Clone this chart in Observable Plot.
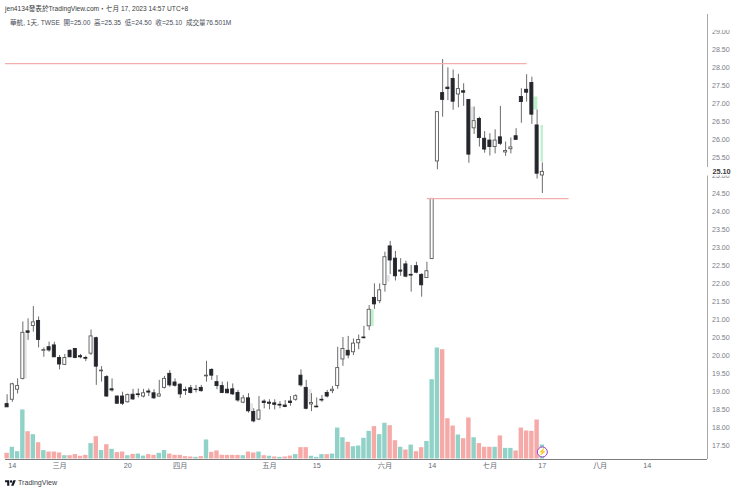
<!DOCTYPE html>
<html><head><meta charset="utf-8">
<script src="https://cdn.jsdelivr.net/npm/d3@7"></script>
<script src="https://cdn.jsdelivr.net/npm/@observablehq/plot@0.6"></script>
<style>
html,body{margin:0;padding:0;background:#fff;width:740px;height:492px;overflow:hidden}
body{position:relative;font-family:"Liberation Sans","Noto Sans CJK TC",sans-serif}
.t{position:absolute;white-space:pre;line-height:12px}
#chart{position:absolute;left:0;top:0}
</style></head><body>
<div id="chart"></div>
<div class="t" style="left:5px;top:2.5px;font-size:6.65px;color:#3a3a3a">jen4134發表於TradingView.com・七月 17, 2023 14:57 UTC+8</div>
<div class="t" style="left:10px;top:16.5px;font-size:6.6px;color:#4a4e59">華航, 1天, TWSE  開=25.00  高=25.35  低=24.50  收=25.10  成交量76.501M</div>
<svg style="position:absolute;left:5px;top:479px" width="11" height="8.5" viewBox="0 0 36 28"><path fill="#131722" d="M14 22H7V11H0V4h14v18zM28 22h-8l7.5-18h8L28 22zM20 4a4 4 0 1 1 0 8 4 4 0 0 1 0-8z"/></svg>
<div class="t" style="left:18px;top:477px;font-size:7.1px;color:#3a3e48">TradingView</div>
<script>
const opens = [18.65,18.77,19.05,19.35,20.67,20.82,20.96,20.13,20.23,20.28,19.93,19.74,20.13,20.18,19.98,19.93,20.05,20.48,19.56,19.40,19.06,18.86,18.86,18.70,18.91,18.92,18.86,19.00,18.95,18.86,19.10,19.49,19.25,19.19,19.04,
19.09,19.05,19.10,19.42,19.60,19.26,19.15,19.05,19.06,18.96,18.69,18.81,18.43,18.22,18.72,18.69,18.67,18.63,18.61,18.72,18.77,19.44,19.10,18.64,18.58,18.77,18.96,19.01,
19.15,19.89,20.13,20.09,20.34,20.50,20.81,21.60,21.51,21.96,23.03,22.69,22.36,22.53,22.24,22.48,22.24,22.15,22.68,25.39,27.29,27.44,27.68,27.25,27.34,27.10,26.31,26.57,26.02,25.97,25.79,26.06,25.64,25.73,26.09,27.18,27.38,27.57,26.39,25.00];
const highs = [18.91,19.23,19.35,20.93,21.02,21.36,21.07,20.21,20.37,20.37,20.00,20.03,20.16,20.19,20.03,19.98,20.71,20.51,19.69,19.44,19.35,18.87,18.98,18.93,19.06,19.07,19.06,19.07,19.05,19.31,19.42,19.58,19.35,19.21,19.12,
19.17,19.17,19.17,19.84,19.63,19.44,19.26,19.26,19.21,19.03,18.89,18.94,18.52,18.86,18.77,18.77,18.77,18.72,18.75,18.86,18.91,19.60,19.31,18.94,18.82,18.89,19.03,19.14,
20.23,20.50,20.53,20.46,20.57,20.81,21.39,21.99,21.99,22.87,23.17,22.89,22.69,22.62,22.50,22.59,22.27,22.59,24.35,26.76,28.22,27.99,27.93,27.81,27.55,27.10,26.90,26.62,26.22,26.16,26.27,26.92,25.93,26.04,26.30,27.41,27.80,27.73,26.82,25.35];
const lows = [18.56,18.70,18.93,19.32,20.42,20.65,20.21,19.95,20.09,19.95,19.60,19.72,19.94,19.91,19.91,19.83,20.00,19.17,19.26,18.84,18.98,18.66,18.61,18.68,18.75,18.82,18.82,18.86,18.78,18.84,19.07,19.12,19.12,18.81,18.89,
18.93,18.96,18.98,19.26,19.31,19.05,18.94,18.94,18.89,18.70,18.66,18.40,18.13,18.19,18.52,18.49,18.49,18.52,18.55,18.59,18.73,19.12,18.49,18.44,18.55,18.70,18.82,18.94,
19.06,19.70,19.91,20.00,20.16,20.46,20.69,21.28,21.44,21.76,22.25,22.07,22.20,22.16,21.76,22.27,21.62,22.15,22.66,25.16,26.62,27.08,26.81,26.88,26.92,25.34,26.14,25.79,25.62,25.54,25.60,25.83,25.53,25.60,25.99,26.45,27.04,26.42,24.90,24.50];
const closes = [18.56,19.20,19.15,20.63,20.63,20.92,20.43,20.15,20.14,19.95,19.75,19.93,19.95,19.93,19.95,19.91,20.53,19.69,19.58,18.86,19.03,18.66,18.66,18.90,18.78,18.90,18.95,18.97,18.81,18.92,19.35,19.17,19.16,18.92,19.02,
18.96,19.04,19.01,19.44,19.44,19.15,18.96,18.95,18.92,18.75,18.81,18.45,18.17,18.47,18.68,18.66,18.63,18.61,18.57,18.68,18.87,19.17,18.52,18.68,18.56,18.75,18.86,19.05,
19.65,20.18,20.00,20.33,20.43,20.48,21.27,21.42,21.81,22.73,22.64,22.20,22.33,22.19,22.22,22.30,21.95,22.34,24.35,26.76,27.10,27.40,27.05,27.40,27.30,25.58,26.51,26.04,25.72,25.79,25.97,25.88,25.68,25.78,25.99,27.04,27.30,26.69,25.05,25.10];
// volume in millions of shares
const volumes = [31,64,40,268,149,133,89,46,38,38,33,18,18,24,15,20,84,122,46,78,53,35,38,18,25,27,16,24,20,31,46,27,20,20,13,
11,9,13,104,36,44,20,20,20,20,18,38,33,38,18,15,11,9,11,16,24,62,62,15,9,24,24,27,
169,116,91,67,71,113,151,177,133,195,182,100,64,49,76,40,62,96,433,606,597,220,180,131,111,224,116,84,64,64,64,126,58,58,44,169,153,151,213,76.5];
const volumeUp = [0,1,1,1,0,1,0,1,0,0,0,1,0,0,0,0,1,0,1,0,1,0,0,1,0,1,1,0,0,1,1,0,0,0,0,
0,1,0,1,0,0,0,0,0,0,1,0,0,1,0,1,0,1,0,0,1,0,0,1,1,1,0,1,
1,1,0,1,1,1,1,0,1,1,0,0,1,0,1,0,0,1,1,1,0,0,0,1,0,0,1,0,0,0,1,0,1,1,0,0,0,0,0,1];
const xTickIndex = [1,10,23,33,50,59,72,81,92,102,113,122];
const xTickLabels = ["14","三月","20","四月","五月","15","六月","14","七月","17","八月","14"];
const priceTicks = [17.5,18,18.5,19,19.5,20,20.5,21,21.5,22,22.5,23,23.5,24,24.5,25,25.5,26,26.5,27,27.5,28,28.5,29];
const levelPrice = [28.11,24.36];
const levelFrom = [-0.3,80.07];
const levelTo = [99.1,107.1];
const greenFrom = [69.2,100.4,101.75], greenTo = [69.95,101.15,102.2], greenHi = [21.27,27.18,26.39], greenLo = [20.81,26.82,25.37];
const grayFrom = [3.3,46.4,57.5,72.5,88.45], grayTo = [3.83,46.95,58.1,73,88.97], grayHi = [20.6,18.66,19.05,22.22,26.9], grayLo = [19.35,18.43,18.7,22.04,26.53];

const W = 740, H = 492;
const idx = d3.range(opens.length);
const up = idx.filter(i => closes[i] >= opens[i]);
const dn = idx.filter(i => closes[i] < opens[i]);
const volBase = 17.125, volPerPrice = 196.6; // volume pane shares the price axis
const volTop = i => volBase + volumes[i] / volPerPrice;
const hw = 0.29, bw = 0.42;
const lv = d3.range(levelPrice.length), gr = d3.range(greenFrom.length), gy = d3.range(grayFrom.length);
const vBar = (list, color) => Plot.rect(list, {x1: i => i - bw, x2: i => i + bw, y1: volBase, y2: volTop, fill: color});

const plot = Plot.plot({
  width: W, height: H,
  marginLeft: 0, marginRight: 33, marginTop: 14, marginBottom: 33,
  style: {background: "#fff", fontFamily: "'Liberation Sans','Noto Sans CJK TC',sans-serif", fontSize: "8px"},
  x: {type: "linear", domain: [-1.257, 133.47], axis: null},
  y: {type: "linear", domain: [17.111, 29.472], axis: null},
  marks: [
    Plot.ruleY([17.111], {x1: -0.3, x2: 133.47, stroke: "#7c7c7c", strokeWidth: 1}),
    Plot.ruleX([133.47], {y1: 17.111, y2: 29.472, stroke: "#a8a8a8", strokeWidth: 1}),
    Plot.rect(gr, {x1: i => greenFrom[i], x2: i => greenTo[i], y1: i => greenLo[i], y2: i => greenHi[i], fill: "#bff0cd"}),
    Plot.rect(gy, {x1: i => grayFrom[i], x2: i => grayTo[i], y1: i => grayLo[i], y2: i => grayHi[i], fill: "#e4e4e4"}),
    vBar(idx.filter(i => volumeUp[i]), "#90d2c7"),
    vBar(idx.filter(i => !volumeUp[i]), "#f6aaa8"),
    Plot.ruleX(idx, {x: i => i, y1: i => lows[i], y2: i => highs[i], stroke: "#6c6c6c", strokeWidth: 1}),
    Plot.rect(up, {x1: i => i - hw, x2: i => i + hw, y1: i => opens[i], y2: i => closes[i], fill: "#fff", stroke: "#5a5a5a", strokeWidth: 0.9}),
    Plot.rect(dn, {x1: i => i - hw, x2: i => i + hw, y1: i => opens[i], y2: i => closes[i], fill: "#24262c", stroke: "#24262c", strokeWidth: 0.9}),
    Plot.ruleY(lv, {y: i => levelPrice[i], x1: i => levelFrom[i], x2: i => levelTo[i], stroke: "#f3aeae", strokeWidth: 1.3}),
    Plot.axisX({ticks: xTickIndex, tickSize: 0, tickPadding: 3.5, tickFormat: d => xTickLabels[xTickIndex.indexOf(d)], fill: "#666a73", fontSize: 7.2, label: null}),
    Plot.axisY({anchor: "right", ticks: priceTicks, tickSize: 0, tickPadding: 4.5, tickFormat: d => d.toFixed(2), fill: "#7a7d86", fontSize: 7.1, label: null}),
    // masks: clipped top label and the last-price tag
    Plot.rect([0], {x1: 133.7, x2: 141, y1: 29.03, y2: 29.472, fill: "#fff"}),
    Plot.rect([0], {x1: 133, x2: 141, y1: 24.985, y2: 25.22, fill: "#fff"}),
    Plot.text(["25.10"], {x: 134.4, y: 25.12, text: d => d, textAnchor: "start", fill: "#3a3a3a", fontSize: 7.3, fontWeight: 600}),
    Plot.dot([0], {x: 102, y: 17.32, r: 5, fill: "#fff", stroke: "#9c3fc4", strokeWidth: 1}),
    Plot.text(["⚡"], {x: 102, y: 17.32, text: d => d, fill: "#9c3fc4", fontSize: 7})
  ]
});
document.getElementById("chart").appendChild(plot);
</script>
</body></html>
